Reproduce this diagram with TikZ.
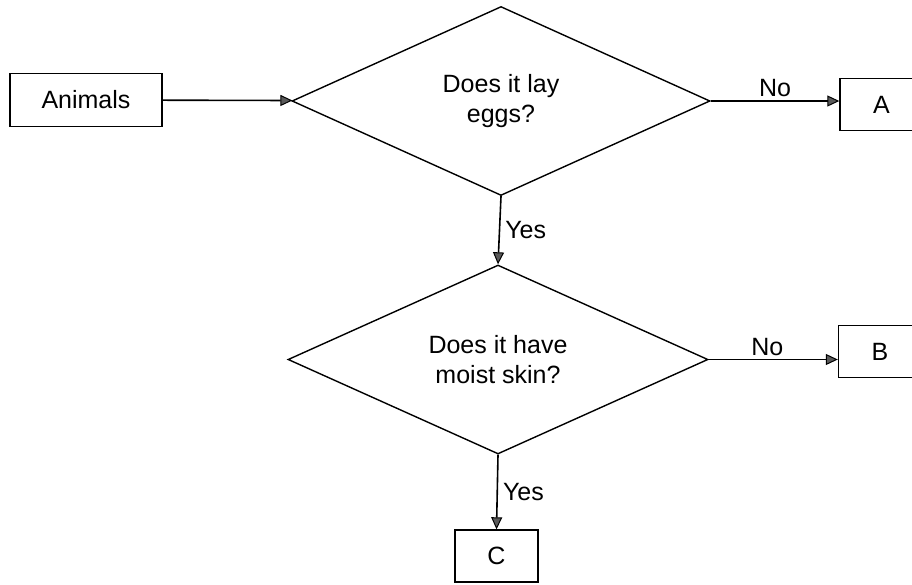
\documentclass[tikz,border=0pt]{standalone}
\usepackage{fontspec}
\setmainfont{Liberation Sans}
\usetikzlibrary{arrows.meta,shapes.geometric}

\tikzset{
  box/.style={draw, line width=1.4pt, minimum width=83pt, minimum height=52pt, inner sep=0pt},
  question/.style={draw, diamond, line width=1.4pt, align=center, inner sep=0pt, aspect=2.2},
  flow/.style={line width=1.6pt, -{Triangle[length=12pt,width=11pt,fill=gray!70!black,line width=1pt]}}
}

\begin{document}
\begin{tikzpicture}[x=1pt, y=-1pt, font=\fontsize{25}{30}\selectfont]
\useasboundingbox[fill=white] (0,0) rectangle (912,584);
%
	\node (animals) [box, minimum width=152pt, minimum height=53pt] at (86, 100) {Animals};
	\node (lay) [question, minimum width=418pt, minimum height=189pt] at (501, 101) {Does it lay\\eggs?};
	\node (moist) [question, minimum width=420pt, minimum height=189pt] at (498, 359.5) {Does it have\\moist skin?};
	\node (a) [box] at (881.5, 104.5) {A};
	\node (b) [box] at (880, 351.5) {B};
	\node (c) [box] at (496.5, 556) {C};

\draw [flow] (animals) -- (lay);
\draw [flow] (lay.east) -- (lay.east -| a.west) node [midway, above, inner sep=3pt] {No};
\draw [flow] (lay.south) -- (moist.north) node [midway, right, inner sep=5pt] {Yes};
\draw [flow] (moist.east) -- (moist.east -| b.west) node [midway, above, inner sep=3pt, xshift=-6pt] {No};
\draw [flow] (moist.south) -- (c.north) node [midway, right, inner sep=5pt] {Yes};
\end{tikzpicture}
\end{document}
